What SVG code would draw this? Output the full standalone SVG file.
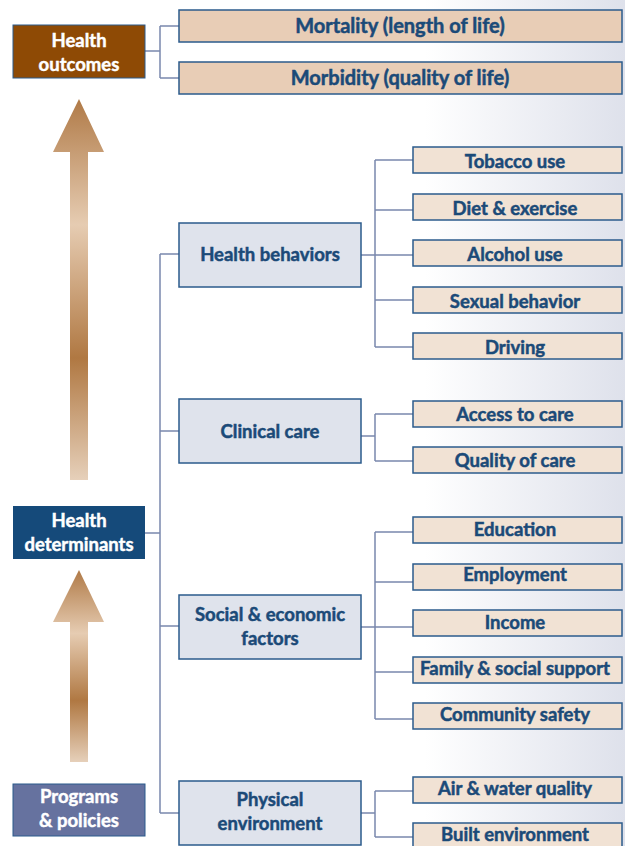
<svg xmlns="http://www.w3.org/2000/svg" width="625" height="846" viewBox="0 0 625 846">
<defs>
<linearGradient id="bg" x1="0" y1="0" x2="1" y2="0">
<stop offset="0" stop-color="#ffffff"/>
<stop offset="0.68" stop-color="#ffffff"/>
<stop offset="1" stop-color="#dee1eb"/>
</linearGradient>
<linearGradient id="arr" x1="0" y1="0" x2="0" y2="1">
<stop offset="0" stop-color="#b07a47"/>
<stop offset="0.33" stop-color="#e6ccb2"/>
<stop offset="0.68" stop-color="#b07842"/>
<stop offset="1" stop-color="#e6d0ba"/>
</linearGradient>
<style>
text{font-family:Lato,"Liberation Sans",sans-serif;font-weight:bold;text-anchor:middle;}
.w{fill:#ffffff;stroke:#ffffff;stroke-width:0.45;font-size:18.5px;}
.b{fill:#1b4a78;stroke:#1b4a78;stroke-width:0.5;font-size:18.5px;}
.t{fill:#1b4a78;stroke:#1b4a78;stroke-width:0.5;font-size:20px;}
.mid{fill:#dfe3ec;stroke:#2b5b8c;stroke-width:1.5;}
.sub{fill:#f1e2d4;stroke:#2b5b8c;stroke-width:1.5;}
.top{fill:#e8cdb6;stroke:#2b5b8c;stroke-width:1.5;}
.c{fill:none;stroke:#7a88ad;stroke-width:1.5;}
</style>
</defs>
<rect x="0" y="0" width="625" height="846" fill="url(#bg)"/>

<g id="arrows">
<path d="M79,99 L104,152 L88,152 L88,480 L70,480 L70,152 L53,152 Z" fill="url(#arr)"/>
<path d="M79,570 L104,622 L88,622 L88,762 L70,762 L70,622 L53,622 Z" fill="url(#arr)"/>
</g>

<g id="connectors">
<path class="c" d="M145,51 H160 M160,26 V78 M160,26 H179 M160,78 H179"/>
<path class="c" d="M145,533 H160 M160,254 V813 M160,254 H179 M160,431 H179 M160,626 H179 M160,813 H179"/>
<path class="c" d="M361,255 H413 M375,160 V347 M375,160 H413 M375,210 H413 M375,300 H413 M375,347 H413"/>
<path class="c" d="M361,436 H375 M375,414 V461 M375,414 H413 M375,461 H413"/>
<path class="c" d="M361,627 H413 M375,532 V719 M375,532 H413 M375,582 H413 M375,672 H413 M375,719 H413"/>
<path class="c" d="M361,813 H375 M375,791 V837 M375,791 H413 M375,837 H413"/>
</g>

<g id="health-outcomes">
<rect x="13" y="25" width="132" height="53" fill="#8e4a05" stroke="#2b5b8c" stroke-width="1"/>
<text class="w" x="79" y="47">Health</text>
<text class="w" x="79" y="71">outcomes</text>
</g>
<g id="mortality">
<rect class="top" x="179" y="10" width="443" height="32"/>
<text class="t" x="400" y="33">Mortality (length of life)</text>
</g>
<g id="morbidity">
<rect class="top" x="179" y="62" width="443" height="32"/>
<text class="t" x="400" y="85">Morbidity (quality of life)</text>
</g>

<g id="health-determinants">
<rect x="13" y="506" width="132" height="53" fill="#154a7a"/>
<text class="w" x="79" y="527">Health</text>
<text class="w" x="79" y="551">determinants</text>
</g>
<g id="programs-policies">
<rect x="13" y="784" width="132" height="52" fill="#66729f" stroke="#2b5b8c" stroke-width="1"/>
<text class="w" x="79" y="803">Programs</text>
<text class="w" x="79" y="827">&amp; policies</text>
</g>

<g id="health-behaviors">
<rect class="mid" x="179" y="223" width="182" height="64"/>
<text class="b" x="270" y="261">Health behaviors</text>
</g>
<g id="clinical-care">
<rect class="mid" x="179" y="399" width="182" height="64"/>
<text class="b" x="270" y="438">Clinical care</text>
</g>
<g id="social-economic">
<rect class="mid" x="179" y="595" width="182" height="64"/>
<text class="b" x="270" y="621">Social &amp; economic</text>
<text class="b" x="270" y="645">factors</text>
</g>
<g id="physical-environment">
<rect class="mid" x="179" y="781" width="182" height="64"/>
<text class="b" x="270" y="806">Physical</text>
<text class="b" x="270" y="830">environment</text>
</g>

<g id="tobacco">
<rect class="sub" x="413" y="147" width="209" height="26"/>
<text class="b" x="515" y="168">Tobacco use</text>
</g>
<g id="diet">
<rect class="sub" x="413" y="194" width="209" height="26"/>
<text class="b" x="515" y="215">Diet &amp; exercise</text>
</g>
<g id="alcohol">
<rect class="sub" x="413" y="240" width="209" height="26"/>
<text class="b" x="515" y="261">Alcohol use</text>
</g>
<g id="sexual">
<rect class="sub" x="413" y="287" width="209" height="26"/>
<text class="b" x="515" y="308">Sexual behavior</text>
</g>
<g id="driving">
<rect class="sub" x="413" y="333" width="209" height="26"/>
<text class="b" x="515" y="354">Driving</text>
</g>

<g id="access">
<rect class="sub" x="413" y="401" width="209" height="26"/>
<text class="b" x="515" y="421">Access to care</text>
</g>
<g id="quality">
<rect class="sub" x="413" y="447" width="209" height="26"/>
<text class="b" x="515" y="467">Quality of care</text>
</g>

<g id="education">
<rect class="sub" x="413" y="517" width="209" height="26"/>
<text class="b" x="515" y="536">Education</text>
</g>
<g id="employment">
<rect class="sub" x="413" y="564" width="209" height="26"/>
<text class="b" x="515" y="581">Employment</text>
</g>
<g id="income">
<rect class="sub" x="413" y="610" width="209" height="26"/>
<text class="b" x="515" y="629">Income</text>
</g>
<g id="family">
<rect class="sub" x="413" y="657" width="209" height="26"/>
<text class="b" x="515" y="675">Family &amp; social support</text>
</g>
<g id="community">
<rect class="sub" x="413" y="703" width="209" height="26"/>
<text class="b" x="515" y="721">Community safety</text>
</g>

<g id="air-water">
<rect class="sub" x="413" y="777" width="209" height="26"/>
<text class="b" x="515" y="795">Air &amp; water quality</text>
</g>
<g id="built">
<rect class="sub" x="413" y="823" width="209" height="30"/>
<text class="b" x="515" y="841">Built environment</text>
</g>
</svg>
